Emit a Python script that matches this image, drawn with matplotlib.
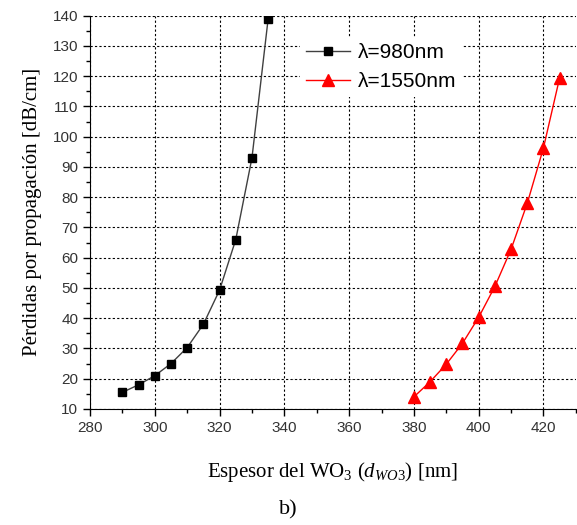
import numpy as np
import matplotlib.pyplot as plt
from matplotlib.ticker import MultipleLocator

plt.rcParams["mathtext.fontset"] = "custom"
plt.rcParams["mathtext.rm"] = "Liberation Serif"
plt.rcParams["mathtext.it"] = "Liberation Serif:italic"
plt.rcParams["mathtext.sf"] = "Liberation Sans"

thick_980 = [290, 295, 300, 305, 310, 315, 320, 325, 330, 335]
loss_980 = [15.5, 18.0, 21.0, 25.0, 30.3, 38.0, 49.3, 66.0, 93.0, 139.0]

thick_1550 = [380, 385, 390, 395, 400, 405, 410, 415, 420, 425]
loss_1550 = [14.0, 19.0, 24.8, 31.7, 40.3, 50.5, 62.8, 78.0, 96.3, 119.5]

fig = plt.figure(figsize=(5.77, 5.25), dpi=100)
ax = fig.add_axes([0.156, 0.221, 0.842, 0.749])

ax.plot(thick_980, loss_980, color="#404040", linewidth=1.0,
        marker="s", markersize=6, markerfacecolor="black",
        markeredgecolor="black", label="\u03bb=980nm")
ax.plot(thick_1550, loss_1550, color="red", linewidth=1.0,
        marker="^", markersize=8, markerfacecolor="red",
        markeredgecolor="red", label="\u03bb=1550nm")

ax.set_xlim(280, 430)
ax.set_ylim(10, 140)
ax.xaxis.set_major_locator(MultipleLocator(20))
ax.xaxis.set_minor_locator(MultipleLocator(10))
ax.yaxis.set_major_locator(MultipleLocator(10))
ax.yaxis.set_minor_locator(MultipleLocator(5))
ax.tick_params(which="major", direction="out", length=5, width=1,
               labelsize=11, labelcolor="#333333")
ax.tick_params(which="minor", direction="out", length=3, width=1)
for lab in ax.get_xticklabels() + ax.get_yticklabels():
    lab.set_family("Liberation Sans")

ax.spines["top"].set_visible(False)
ax.spines["right"].set_visible(False)
ax.grid(True, which="major", color="black", linestyle=(0, (2, 2)), linewidth=0.8)

ax.set_xlabel(r"Espesor del WO$_3$ ($d_{WO3}$) [nm]", family="Liberation Serif",
              fontsize=15, labelpad=18)
ax.set_ylabel("Pérdidas por propagación [dB/cm]", family="Liberation Serif",
              fontsize=15, labelpad=8)

leg = ax.legend(loc="upper left", bbox_to_anchor=(0.41, 0.972), frameon=True,
                facecolor="white", edgecolor="none", framealpha=1.0, fancybox=False,
                prop={"family": "Liberation Sans", "size": 15},
                handlelength=2.1, handletextpad=0.4, labelspacing=0.45,
                borderpad=0.3)

fig.text(0.5, 0.02, "b)", family="Liberation Serif", fontsize=16, ha="center")

fig.savefig("out.png", dpi=100)
